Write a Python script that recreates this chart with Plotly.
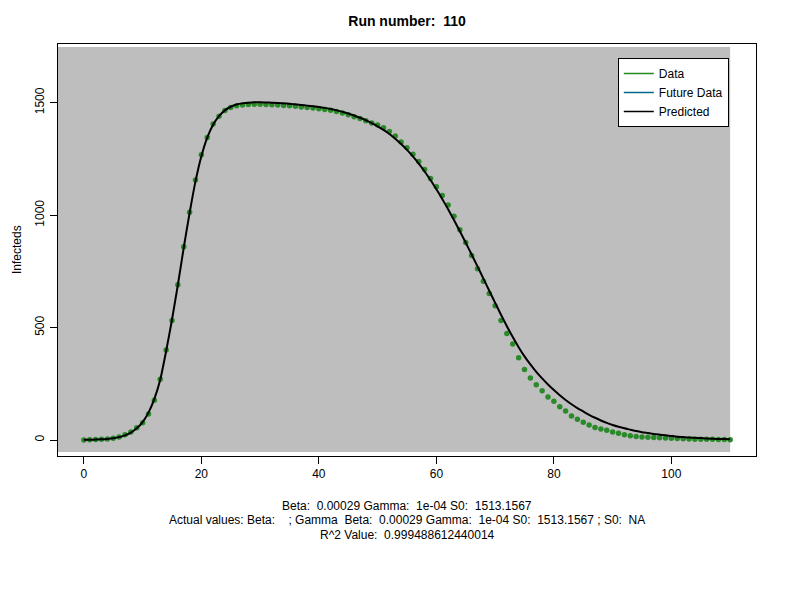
import plotly.graph_objects as go

days = list(range(0, 111))
observed = [0, 1, 2, 3, 5, 8, 14, 24, 36, 55,
            77, 116, 177, 270, 400, 532, 690, 859, 1013, 1156,
            1268, 1345, 1405, 1440, 1465, 1479, 1486, 1490, 1492, 1493,
            1493, 1492, 1491, 1490, 1488, 1486, 1484, 1481, 1479, 1476,
            1473, 1470, 1466, 1461, 1454, 1446, 1438, 1430, 1420, 1410,
            1401, 1389, 1372, 1352, 1325, 1300, 1271, 1239, 1203, 1163,
            1126, 1087, 1045, 995, 935, 878, 820, 762, 706, 652,
            597, 532, 474, 427, 366, 314, 276, 246, 219, 191,
            173, 148, 129, 107, 92, 79, 67, 56, 49, 43,
            36, 30, 24, 19, 16, 14, 12, 11, 10, 9,
            8, 7, 6, 5, 4, 4, 3, 3, 2, 2, 1]

# fitted SIR curve
predicted = [1, 1.5, 2, 3, 5, 8, 13, 21, 33, 52,
             80, 122, 183, 268, 395, 535, 690, 855, 1010, 1150,
             1262, 1345, 1402, 1440, 1466, 1482, 1492, 1497, 1500, 1502,
             1502, 1501, 1500, 1499, 1497, 1495, 1493, 1490, 1487, 1484,
             1481, 1477, 1472, 1466, 1460, 1452, 1443, 1433, 1422, 1409,
             1395, 1379, 1361, 1340, 1316, 1290, 1261, 1229, 1194, 1156,
             1115, 1072, 1026, 978, 928, 877, 825, 772, 718, 664,
             610, 557, 506, 458, 413, 372, 336, 303, 274, 247,
             222, 199, 178, 159, 142, 127, 112, 99, 87, 76,
             67, 59, 52, 46, 40, 35, 31, 27, 24, 21,
             18, 15, 13, 11, 10, 9, 7, 6, 5, 5, 4]

legend_names = ["Data", "Future Data", "Predicted"]
legend_colors = ["#228B22", "#00688B", "black"]

info_lines = [
    "Beta:  0.00029 Gamma:  1e-04 S0:  1513.1567",
    "Actual values: Beta:    ; Gamma  Beta:  0.00029 Gamma:  1e-04 S0:  1513.1567 ; S0:  NA",
    "R^2 Value:  0.999488612440014",
]

fig = go.Figure()

# gray panel behind the curves
fig.add_shape(type="rect", xref="x", yref="y", x0=-4.4, x1=110, y0=-53, y1=1748,
              fillcolor="#bebebe", line_width=0, layer="below")

fig.add_trace(go.Scatter(x=days, y=observed, mode="markers",
                         marker=dict(color="#2a8a2a", size=5.5),
                         showlegend=False))
fig.add_trace(go.Scatter(x=days, y=predicted, mode="lines",
                         line=dict(color="black", width=2, shape="spline", smoothing=0.6),
                         showlegend=False))

# legend entries
for name, col in zip(legend_names, legend_colors):
    fig.add_trace(go.Scatter(x=[None], y=[None], mode="lines", name=name,
                             line=dict(color=col, width=1.3)))

axis_common = dict(showgrid=False, zeroline=False, showline=True, mirror=True,
                   linecolor="black", linewidth=1, ticks="outside", ticklen=7,
                   tickcolor="black", tickfont=dict(size=12, color="black"))

fig.update_xaxes(range=[-4.4, 114.4], tickvals=[0, 20, 40, 60, 80, 100], **axis_common)
fig.update_yaxes(range=[-71, 1761], tickvals=[0, 500, 1000, 1500], tickangle=-90,
                 ticklabelstandoff=1, **axis_common)

# page body adds 8px offset, so margins are shifted by that much
fig.update_layout(
    width=800, height=600,
    margin=dict(l=50, r=52, t=36, b=152, autoexpand=False),
    plot_bgcolor="white", paper_bgcolor="white",
    font=dict(family="Liberation Sans, Arial, sans-serif", size=12, color="black"),
    title=dict(text="<b>Run number:  110</b>", x=0.5, xref="paper",
               y=1 - 13 / 600, yref="container", yanchor="middle",
               font=dict(size=14)),
    legend=dict(x=0.802, y=0.966, xanchor="left", yanchor="top",
                bgcolor="white", bordercolor="black", borderwidth=1,
                font=dict(size=12), tracegroupgap=0, itemwidth=30),
)

fig.add_annotation(text="Infecteds", xref="paper", yref="paper",
                   x=-50 / 698, y=0.5, xanchor="left", textangle=-90,
                   showarrow=False, font=dict(size=12))

for i, line in enumerate(info_lines):
    ypx = [506, 520, 535][i]
    fig.add_annotation(text=line, xref="paper", yref="paper", x=0.5,
                       y=-(ypx - 456) / 412, yanchor="middle", showarrow=False,
                       font=dict(size=12))

fig.write_html("out.html")
